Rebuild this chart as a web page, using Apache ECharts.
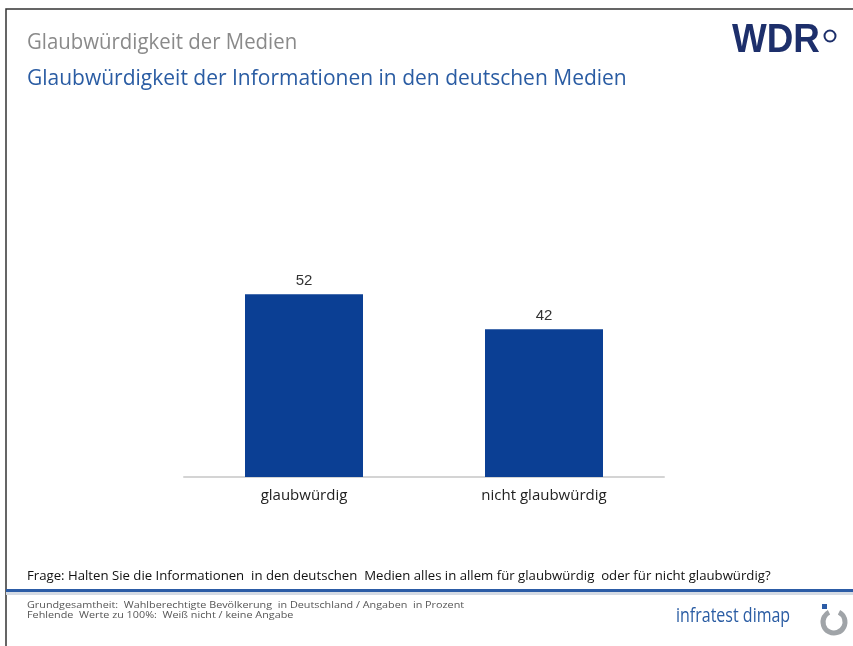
<!DOCTYPE html>
<html><head><meta charset="utf-8">
<script src="https://cdn.jsdelivr.net/npm/echarts@6/dist/echarts.min.js"></script>
<style>html,body{margin:0;padding:0;background:#fff}#c{width:853px;height:646px}</style>
</head><body><div id="c"></div>
<script>
const categories = ['glaubwürdig', 'nicht glaubwürdig'];
const values = [52, 42];
const titleTop = 'Glaubwürdigkeit der Medien';
const titleMain = 'Glaubwürdigkeit der Informationen in den deutschen Medien';
const question = 'Frage: Halten Sie die Informationen  in den deutschen  Medien alles in allem für glaubwürdig  oder für nicht glaubwürdig?';
const note1 = 'Grundgesamtheit:  Wahlberechtigte Bevölkerung  in Deutschland / Angaben  in Prozent';
const note2 = 'Fehlende  Werte zu 100%:  Weiß nicht / keine Angabe';

const chart = echarts.init(document.getElementById('c'), null, {renderer: 'canvas'});
const sans = '"Open Sans", sans-serif';
chart.setOption({
  backgroundColor: '#fff',
  animation: false,
  grid: {left: 184, right: 189, top: 266, bottom: 169},
  xAxis: {
    type: 'category', data: categories,
    axisLine: {lineStyle: {color: '#d4d4d4', width: 2}},
    axisTick: {show: false},
    axisLabel: {color: '#222', fontSize: 15, fontFamily: sans, margin: 11}
  },
  yAxis: {type: 'value', min: 0, max: 60, show: false, splitLine: {show: false}},
  series: [{
    type: 'bar', data: values, barWidth: 118,
    itemStyle: {color: '#0b3f94'},
    label: {show: true, position: 'top', color: '#333', fontSize: 15, distance: 6,
      fontFamily: 'Liberation Sans, Arial, sans-serif'}
  }],
  graphic: [
    {type: 'rect', shape: {x: 6, y: 9, width: 860, height: 700}, style: {fill: 'none', stroke: '#333', lineWidth: 1.5}, silent: true},
    {type: 'text', x: 27, y: 33, scaleX: 0.97, style: {text: titleTop, fill: '#8a8a8a', fontSize: 21, fontFamily: sans}},
    {type: 'text', x: 27, y: 69, style: {text: titleMain, fill: '#2a5ca3', fontSize: 21, fontFamily: sans}},
    {type: 'text', x: 732, y: 21, scaleX: 0.92, style: {text: 'WDR', fill: '#1d2f6b', fontSize: 40, fontWeight: 'bold', fontFamily: '"Liberation Sans", Arial, sans-serif'}},
    {type: 'circle', shape: {cx: 830, cy: 36, r: 5.5}, style: {fill: '#fff', stroke: '#1d2f6b', lineWidth: 2}},
    {type: 'text', x: 27, y: 570, style: {text: question, fill: '#111', fontSize: 13.2, fontFamily: sans}},
    {type: 'rect', shape: {x: 6, y: 589, width: 850, height: 3}, style: {fill: '#2c5ca6'}},
    {type: 'rect', shape: {x: 6, y: 592, width: 850, height: 3}, style: {fill: '#d5dbe4'}},
    {type: 'text', x: 27, y: 601, scaleX: 1.2, style: {text: note1, fill: '#555', fontSize: 9, fontFamily: sans}},
    {type: 'text', x: 27, y: 611, scaleX: 1.2, style: {text: note2, fill: '#555', fontSize: 9, fontFamily: sans}},
    {type: 'text', x: 676, y: 606, scaleX: 0.8, style: {text: 'infratest dimap', fill: '#2a5ca3', fontSize: 20, fontFamily: sans}},
    {type: 'arc', shape: {cx: 834, cy: 622, r: 11, startAngle: -Math.PI * 0.35, endAngle: Math.PI * 1.35}, style: {stroke: '#a0a4a8', lineWidth: 5, fill: 'none'}},
    {type: 'rect', shape: {x: 822, y: 604, width: 5, height: 5}, style: {fill: '#2c5ca6'}}
  ]
});
</script></body></html>
